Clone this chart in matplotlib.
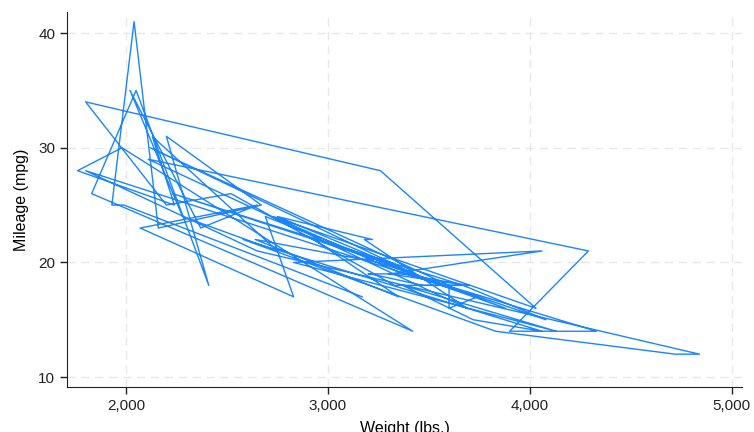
import matplotlib
matplotlib.use("Agg")
import matplotlib.pyplot as plt
from matplotlib.ticker import FuncFormatter

# 1978 automobile data, in data order
weight = [2930, 3350, 2640, 3250, 4080, 3670, 2230, 3280, 3880, 3400,
          4330, 3900, 4290, 2110, 3690, 3180, 3220, 2750, 3430, 2120,
          3600, 3600, 3740, 1800, 2650, 4840, 4720, 3830, 2580, 4060,
          3720, 3370, 4130, 2830, 4060, 3310, 3300, 3690, 3370, 2730,
          4030, 3260, 1800, 2200, 2520, 3330, 3700, 3470, 3210, 3200,
          3420, 2690, 2830, 2070, 2650, 2370, 2020, 2280, 2750, 2130,
          2240, 1760, 1980, 3420, 1830, 2050, 2410, 2200, 2670, 2160,
          2040, 1930, 1990, 3170]
mpg = [22, 17, 22, 20, 15, 18, 26, 20, 16, 19,
       14, 14, 21, 29, 16, 22, 22, 24, 19, 30,
       18, 16, 17, 28, 21, 12, 12, 14, 22, 14,
       15, 18, 14, 20, 21, 19, 19, 18, 19, 24,
       16, 28, 34, 25, 26, 18, 18, 18, 19, 19,
       19, 24, 17, 23, 25, 23, 35, 24, 21, 31,
       25, 28, 30, 14, 26, 35, 18, 31, 25, 23,
       41, 25, 25, 17]
xticks = [2000, 3000, 4000, 5000]
yticks = [10, 20, 30, 40]

plt.rcParams['font.family'] = ['Liberation Sans', 'DejaVu Sans']

fig = plt.figure(figsize=(7.54, 4.32), dpi=100)
ax = fig.add_axes([0.0889, 0.104, 0.895, 0.868])
ax.plot(weight, mpg, color='#1a85ff', linewidth=1.0)

ax.set_xlim(1708, 5050)
ax.set_ylim(9.13, 41.83)
ax.set_xticks(xticks)
ax.set_yticks(yticks)
ax.xaxis.set_major_formatter(FuncFormatter(lambda v, p: f"{int(v):,}"))
ax.tick_params(labelsize=11, length=5, width=1, colors='#222222')
ax.grid(True, color='#e8e8e8', linestyle=(0, (6, 4)), linewidth=1)
ax.set_axisbelow(True)
for s in ['top', 'right']:
    ax.spines[s].set_visible(False)
ax.spines['left'].set_color('#222222')
ax.spines['bottom'].set_color('#222222')

ax.set_xlabel("Weight (lbs.)", fontsize=11.5, labelpad=6)
ax.set_ylabel("Mileage (mpg)", fontsize=11.5, labelpad=7)

fig.savefig("out.png", dpi=100)
